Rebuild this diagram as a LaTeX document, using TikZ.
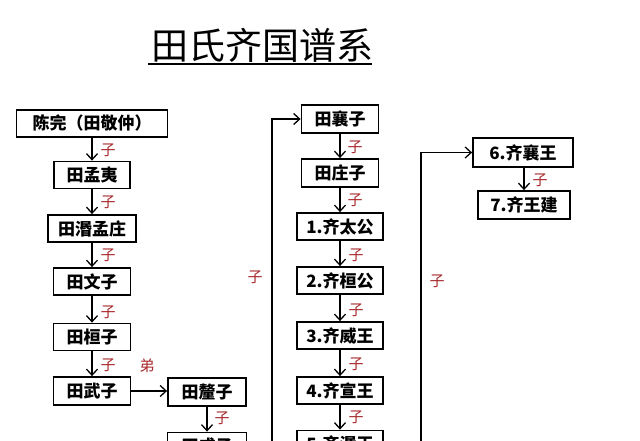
\documentclass[tikz,border=0pt]{standalone}
\usepackage{fontspec}
\newfontfamily\cjk{Noto Sans CJK SC}
\usetikzlibrary{arrows.meta}
\definecolor{lblred}{RGB}{168,40,44}
\tikzset{
  box/.style={draw, line width=1.8pt, inner sep=0pt, minimum height=27pt, font=\cjk\bfseries\fontsize{17}{17}\selectfont},
  arr/.style={line width=1.3pt, -{Straight Barb[length=6pt,width=11pt,line width=1.3pt]}},
  lbl/.style={text=lblred, font=\cjk\fontsize{15}{15}\selectfont, inner sep=0pt}
}
\begin{document}
\begin{tikzpicture}[x=1pt,y=-1pt]
\useasboundingbox (0,0) rectangle (640,440);
\clip (0,0) rectangle (640,440);
\fill[white] (0,0) rectangle (640,440);
% title
\node[font=\cjk\fontsize{37}{37}\selectfont, inner sep=0pt] (title) at (262,45) {田氏齐国谱系};
\draw[line width=1.6pt] (148,64) -- (372,64);
% left column
\node[box, minimum width=151pt] (chen) at (92,123.5) {陈完（田敬仲）};
\node[box, minimum width=76pt] (mengyi) at (92,175) {田孟夷};
\node[box, minimum width=88pt] (minmz) at (92,228.5) {田湣孟庄};
\node[box, minimum width=77pt] (wenzi) at (92,281.5) {田文子};
\node[box, minimum width=77pt] (huanzi) at (92,337) {田桓子};
\node[box, minimum width=77pt, minimum height=28pt] (wuzi) at (92,391) {田武子};
\node[box, minimum width=78pt, minimum height=28pt] (xizi) at (207,392) {田釐子};
\node[box, minimum width=79pt] (chengzi) at (207,446) {田成子};
% middle column
\node[box, minimum width=77pt, minimum height=28pt] (xiangzi) at (340,119) {田襄子};
\node[box, minimum width=77pt, minimum height=28pt] (zhuangzi) at (340,173) {田庄子};
\node[box, minimum width=86pt] (taigong) at (340,226.5) {1.齐太公};
\node[box, minimum width=86pt] (huangong) at (340,280.5) {2.齐桓公};
\node[box, minimum width=86pt] (weiwang) at (340,335.5) {3.齐威王};
\node[box, minimum width=86pt] (xuanwang) at (340,390.5) {4.齐宣王};
\node[box, minimum width=86pt] (minwang) at (340,444) {5.齐湣王};
% right column
\node[box, minimum width=100pt, minimum height=29pt] (xiangwang) at (523,152.5) {6.齐襄王};
\node[box, minimum width=92pt, minimum height=28pt] (wangjian) at (524,205) {7.齐王建};
% vertical arrows
\draw[arr] (chen) -- (mengyi);
\draw[arr] (mengyi) -- (minmz);
\draw[arr] (minmz) -- (wenzi);
\draw[arr] (wenzi) -- (huanzi);
\draw[arr] (huanzi) -- (wuzi);
\draw[arr] (wuzi.east) -- (wuzi.east -| xizi.west);
\draw[arr] (xizi) -- (chengzi);
\draw[arr] (xiangzi) -- (zhuangzi);
\draw[arr] (zhuangzi) -- (taigong);
\draw[arr] (taigong) -- (huangong);
\draw[arr] (huangong) -- (weiwang);
\draw[arr] (weiwang) -- (xuanwang);
\draw[arr] (xuanwang) -- (minwang);
\draw[arr] (xiangwang.south -| wangjian) -- (wangjian);
% long connectors
\coordinate (L) at (272,470);
\coordinate (R) at (421,470);
\draw[arr] (L) |- (xiangzi.west);
\draw[arr] (R) |- (xiangwang.west);
% labels
\node[lbl] at (108,150) {子};
\node[lbl] at (108,202) {子};
\node[lbl] at (108,255) {子};
\node[lbl] at (108,312) {子};
\node[lbl] at (108,365) {子};
\node[lbl] at (147,366) {弟};
\node[lbl] at (222,418) {子};
\node[lbl] at (255,277) {子};
\node[lbl] at (355,147) {子};
\node[lbl] at (355,200) {子};
\node[lbl] at (356,255) {子};
\node[lbl] at (356,310) {子};
\node[lbl] at (356,364) {子};
\node[lbl] at (356,417) {子};
\node[lbl] at (437,281) {子};
\node[lbl] at (540,180) {子};
\end{tikzpicture}
\end{document}
